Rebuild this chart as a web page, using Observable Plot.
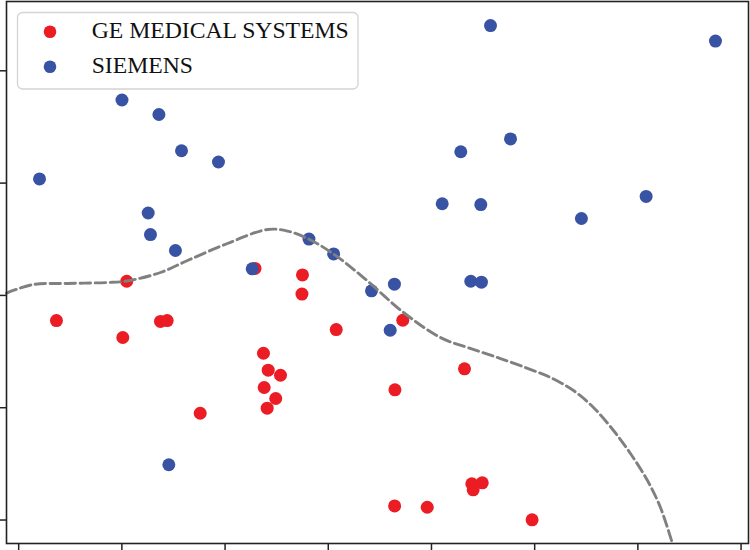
<!DOCTYPE html>
<html><head><meta charset="utf-8">
<script src="https://cdn.jsdelivr.net/npm/d3@7"></script>
<script src="https://cdn.jsdelivr.net/npm/@observablehq/plot@0.6"></script>
<style>
html,body{margin:0;padding:0;background:#fff;}
#wrap{position:relative;width:750px;height:550px;}
#legend{position:absolute;left:0;top:0;pointer-events:none;}
</style>
</head><body>
<div id="wrap"></div>
<script>
// ---- data ----
const categories = ["GE MEDICAL SYSTEMS", "SIEMENS"];
const colors = ["#ec1c24", "#3953a4"];

const geX = [2.290, 1.047, 0.366, 1.374, 1.439, 1.009, 2.750, 2.745, 3.077, 3.722, 2.372, 2.418, 2.537, 2.379, 2.491, 2.408, 1.759, 4.320, 3.646, 4.391, 4.492, 4.404, 3.643, 3.959, 4.975];
const geY = [2.240, 2.126, 1.776, 1.768, 1.776, 1.625, 2.182, 2.012, 1.696, 1.779, 1.485, 1.334, 1.289, 1.180, 1.082, 0.996, 0.951, 1.346, 1.159, 0.322, 0.331, 0.269, 0.126, 0.114, 0.002];

const siemensX = [4.572, 6.752, 1.001, 1.359, 1.578, 1.936, 4.284, 4.766, 0.202, 4.104, 4.478, 5.453, 6.080, 1.255, 1.277, 1.519, 2.813, 3.052, 2.263, 4.381, 4.484, 3.641, 3.419, 3.600, 1.455];
const siemensY = [4.403, 4.265, 3.740, 3.611, 3.288, 3.188, 3.279, 3.393, 3.037, 2.816, 2.809, 2.685, 2.881, 2.734, 2.542, 2.400, 2.502, 2.369, 2.237, 2.126, 2.118, 2.100, 2.041, 1.690, 0.492];

const boundaryX = [-0.118, 0.143, 0.473, 0.860, 1.045, 1.374, 1.636, 2.023, 2.411, 2.605, 2.818, 3.050, 3.341, 3.729, 4.087, 4.349, 4.669, 4.988, 5.153, 5.376, 5.570, 5.764, 5.928, 6.093, 6.219, 6.335];
const boundaryY = [2.021, 2.097, 2.106, 2.115, 2.128, 2.204, 2.311, 2.462, 2.587, 2.573, 2.498, 2.369, 2.159, 1.848, 1.625, 1.536, 1.438, 1.331, 1.269, 1.153, 1.002, 0.797, 0.592, 0.352, 0.111, -0.209];

const xTicks = [0, 1, 2, 3, 4, 5, 6, 7];
const yTicks = [0, 1, 2, 3, 4];

// ---- build tables ----
const ge = geX.map((x, i) => ({x, y: geY[i]}));
const siemens = siemensX.map((x, i) => ({x, y: siemensY[i]}));
const boundary = boundaryX.map((x, i) => ({x, y: boundaryY[i]}));

const chart = Plot.plot({
  width: 750,
  height: 550,
  marginLeft: 6,
  marginRight: 2,
  marginTop: 1,
  marginBottom: 7,
  style: {background: "#fff", overflow: "visible"},
  x: {domain: [-0.118, 7.072], label: null},
  y: {domain: [-0.209, 4.617], label: null},
  marks: [
    Plot.dot(ge, {x: "x", y: "y", r: 6.5, fill: colors[0], stroke: "none"}),
    Plot.dot(siemens, {x: "x", y: "y", r: 6.5, fill: colors[1], stroke: "none"}),
    Plot.line(boundary, {x: "x", y: "y", stroke: "#808080", strokeWidth: 2.9, strokeDasharray: "10.4,4.6", curve: "catmull-rom"}),
    Plot.frame({stroke: "#222", strokeWidth: 1.6}),
    Plot.axisX({ticks: xTicks, tickSize: 7, tickFormat: () => "", stroke: "#222", strokeWidth: 1.5, label: null}),
    Plot.axisY({ticks: yTicks, tickSize: 6, tickFormat: () => "", stroke: "#222", strokeWidth: 1.5, label: null})
  ]
});

const wrap = document.getElementById("wrap");
wrap.appendChild(chart);

// ---- legend overlay (inside plot area, upper left) ----
const ns = "http://www.w3.org/2000/svg";
const leg = document.createElementNS(ns, "svg");
leg.setAttribute("id", "legend");
leg.setAttribute("width", 750);
leg.setAttribute("height", 550);
const box = document.createElementNS(ns, "rect");
box.setAttribute("x", 17.5); box.setAttribute("y", 12.5);
box.setAttribute("width", 340.5); box.setAttribute("height", 76.5);
box.setAttribute("rx", 5);
box.setAttribute("fill", "rgba(255,255,255,0.85)");
box.setAttribute("stroke", "#d4d4d4");
box.setAttribute("stroke-width", 1.3);
leg.appendChild(box);
const rowY = [31.7, 66.7];
categories.forEach((name, i) => {
  const c = document.createElementNS(ns, "circle");
  c.setAttribute("cx", 50); c.setAttribute("cy", rowY[i]); c.setAttribute("r", 6.3);
  c.setAttribute("fill", colors[i]);
  leg.appendChild(c);
  const t = document.createElementNS(ns, "text");
  t.setAttribute("x", 91.7); t.setAttribute("y", rowY[i] + 6.5);
  t.setAttribute("font-family", "'Liberation Serif', serif");
  t.setAttribute("font-size", 23.7);
  t.setAttribute("fill", "#111");
  t.textContent = name;
  leg.appendChild(t);
});
wrap.appendChild(leg);
</script>
</body></html>
